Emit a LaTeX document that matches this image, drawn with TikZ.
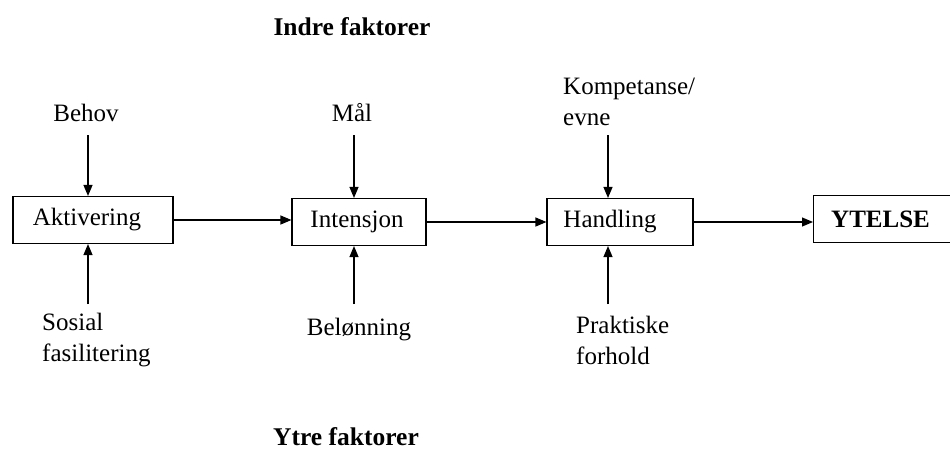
\documentclass[tikz,border=0pt]{standalone}
\usepackage{fontspec}
\setmainfont{Liberation Serif}
\usetikzlibrary{arrows.meta}
\begin{document}
\begin{tikzpicture}[x=1pt,y=-1pt,
  box/.style={draw,line width=1.1pt,minimum height=47pt,inner sep=0pt,font=\fontsize{25}{29}\selectfont},
  lbl/.style={inner sep=0pt,font=\fontsize{25}{31}\selectfont},
  ttl/.style={inner sep=0pt,font=\fontsize{25.5}{29}\selectfont\bfseries},
  conn/.style={line width=1.1pt,-{Triangle[length=11pt,width=9pt]}}]
\useasboundingbox (0,0) rectangle (950,450);
% boxes
\node[box,minimum width=160pt] (akt) at (93,220) {\hspace*{-12pt}Aktivering};
\node[box,minimum width=134pt] (int) at (359,222) {\hspace*{-4pt}Intensjon};
\node[box,minimum width=146pt] (han) at (620,222) {\hspace*{-20pt}Handling};
\node[box,minimum width=160pt,anchor=west] (yt) at (813,219) {\hspace*{-26pt}\bfseries YTELSE};
% titles
\node[ttl] (indre) at (352,27) {Indre faktorer};
\node[ttl] (ytre) at (346,437) {Ytre faktorer};
% labels
\node[lbl] (behov) at (86,113) {Behov};
\node[lbl] (maal) at (352,113) {Mål};
\node[lbl,anchor=west,align=left] (komp) at (563,102) {Kompetanse/\\evne};
\node[lbl,anchor=west,align=left] (sos) at (42,340) {Sosial\\fasilitering};
\node[lbl] (bel) at (359,330) {Belønning};
\node[lbl,anchor=west,align=left] (prak) at (576,340) {Praktiske\\forhold};
% arrow start points
\coordinate (c1) at (88,135);
\coordinate (c2) at (88,304);
\coordinate (c3) at (354,135);
\coordinate (c4) at (354,304);
\coordinate (c5) at (608,135);
\coordinate (c6) at (608,304);
% vertical arrows
\draw[conn] (c1) -- (c1 |- akt.north);
\draw[conn] (c2) -- (c2 |- akt.south);
\draw[conn] (c3) -- (c3 |- int.north);
\draw[conn] (c4) -- (c4 |- int.south);
\draw[conn] (c5) -- (c5 |- han.north);
\draw[conn] (c6) -- (c6 |- han.south);
% horizontal arrows
\draw[conn] (akt.east) -- (akt.east -| int.west);
\draw[conn] (int.east |- han.west) -- (han.west);
\draw[conn] (han.east) -- (han.east -| yt.west);
\end{tikzpicture}
\end{document}
